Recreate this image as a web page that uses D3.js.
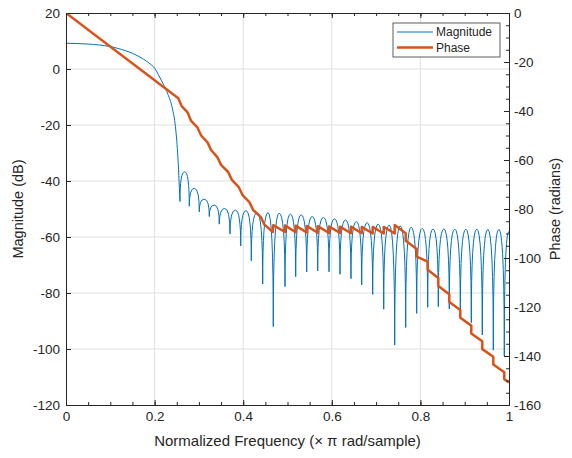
<!DOCTYPE html>
<html>
<head>
<meta charset="utf-8">
<script src="https://cdn.jsdelivr.net/npm/d3@7"></script>
<style>
  body { margin: 0; background: #fff; }
  svg text { font-family: "Liberation Sans", Arial, sans-serif; fill: #262626; }
</style>
</head>
<body>
<div id="chart"></div>
<script>
// passband and transition band (normalized freq, dB)
const bandFreq = [0, 0.05, 0.1, 0.125, 0.15, 0.175, 0.19, 0.2, 0.21, 0.22, 0.23, 0.24, 0.247, 0.252];
const bandMag = [9.2, 8.9, 8.0, 7.0, 5.6, 3.5, 1.8, 0.3, -2.5, -5.5, -9, -14, -20.6, -30];

// stopband nulls and lobe peaks
const nullFreq = [0.2573, 0.2783, 0.3009, 0.3235, 0.3460, 0.3702, 0.3944, 0.4183, 0.4440, 0.4679,
  0.4944, 0.5185, 0.5433, 0.5682, 0.5937, 0.6185, 0.6433, 0.6675, 0.6923, 0.7172,
  0.7420, 0.7668, 0.7916, 0.8165, 0.8404, 0.8652, 0.8901, 0.9149, 0.9397, 0.9646, 0.9894];
const nullMag = [-47.3, -49.0, -51.0, -52.7, -55.4, -58.9, -63.2, -68.5, -76.8, -92.0,
  -77.7, -74.2, -72.5, -72.1, -72.4, -73.3, -74.9, -77.1, -80.5, -85.8,
  -98.6, -92.3, -87.3, -85.1, -84.9, -85.7, -88.7, -90.6, -95.0, -100.4, -102.5];
const peakMag = [-36.7, -42.6, -46.5, -48.6, -49.8, -50.4, -50.6, -51.3, -51.3, -51.5,
  -51.8, -52.1, -52.7, -53.0, -53.5, -53.9, -54.5, -54.9, -55.4, -55.7,
  -56.0, -56.5, -56.9, -57.1, -57.1, -57.2, -57.2, -57.2, -57.3, -57.3];
const magEnd = -58;

// phase vertices (normalized freq, radians)
const phaseFreq = [0, 0.2535, 0.2610, 0.2745, 0.2820, 0.2970, 0.3050, 0.3195, 0.3275, 0.3420,
  0.3500, 0.3660, 0.3745, 0.3900, 0.3985, 0.4140, 0.4225, 0.4395, 0.4480, 0.4670,
  0.4679, 0.4944, 0.4944, 0.5185, 0.5185, 0.5433, 0.5433, 0.5682, 0.5682, 0.5937,
  0.5937, 0.6185, 0.6185, 0.6433, 0.6433, 0.6675, 0.6675, 0.6923, 0.6923, 0.7172,
  0.7172, 0.7420, 0.7420, 0.7668, 0.7668, 0.7916, 0.7916, 0.8165, 0.8165, 0.8404,
  0.8404, 0.8652, 0.8652, 0.8901, 0.8901, 0.9149, 0.9149, 0.9397, 0.9397, 0.9646,
  0.9646, 0.9894, 0.9894, 1];
const phaseVal = [0, -34.8, -38.0, -40.6, -43.9, -46.8, -50.0, -52.8, -55.9, -58.9,
  -62.0, -64.9, -68.1, -71.1, -74.3, -77.2, -80.4, -83.2, -86.4, -89.4,
  -86.6, -89.4, -86.7, -89.5, -86.8, -89.6, -86.9, -89.7, -87.0, -89.8,
  -87.1, -89.8, -87.2, -89.9, -87.2, -89.9, -87.3, -90.0, -87.3, -90.0,
  -87.3, -90.0, -86.5, -89.9, -93.0, -96.3, -99.4, -101.5, -104.8, -108.2,
  -111.4, -114.8, -118.0, -121.2, -124.4, -127.6, -130.8, -134.0, -137.2, -140.3,
  -143.5, -146.6, -149.5, -150.8];

const xTicks = [0, 0.2, 0.4, 0.6, 0.8, 1];
const xMinor = d3.range(0, 1.0001, 0.05);
const magTicks = [-120, -100, -80, -60, -40, -20, 0, 20];
const phaseTicks = [-160, -140, -120, -100, -80, -60, -40, -20, 0];
const phaseMinor = d3.range(-160, 0.1, 5);

const WIDTH = 572;
const HEIGHT = 458;
const MARGIN = { TOP: 13, RIGHT: 63, BOTTOM: 53, LEFT: 66 };
const width = WIDTH - MARGIN.LEFT - MARGIN.RIGHT;
const height = HEIGHT - MARGIN.TOP - MARGIN.BOTTOM;

const BLUE = '#0072BD';
const ORANGE = '#D95319';
const AXIS = '#262626';
const GRID = '#dfdfdf';

const svg = d3.select('#chart')
  .append('svg')
  .attr('width', WIDTH)
  .attr('height', HEIGHT);

const g = svg.append('g')
  .attr('transform', `translate(${MARGIN.LEFT}, ${MARGIN.TOP})`);

const x = d3.scaleLinear().domain([0, 1]).range([0, width]);
const yMag = d3.scaleLinear().domain([-120, 20]).range([height, 0]);
const yPh = d3.scaleLinear().domain([-160, 0]).range([height, 0]);

// grid
g.append('g').selectAll('line')
  .data(xTicks.slice(1, -1))
  .enter().append('line')
  .attr('x1', d => x(d)).attr('x2', d => x(d))
  .attr('y1', 0).attr('y2', height)
  .attr('stroke', GRID);
g.append('g').selectAll('line')
  .data(magTicks.slice(1, -1))
  .enter().append('line')
  .attr('x1', 0).attr('x2', width)
  .attr('y1', d => yMag(d)).attr('y2', d => yMag(d))
  .attr('stroke', GRID);

g.append('clipPath').attr('id', 'clip')
  .append('rect').attr('width', width).attr('height', height);

const plot = g.append('g').attr('clip-path', 'url(#clip)');

// magnitude curve
const bandPts = bandFreq.map((f, i) => [f, bandMag[i]]).concat([[nullFreq[0], nullMag[0]]]);
const bandLine = d3.line()
  .x(d => x(d[0]))
  .y(d => yMag(d[1]))
  .curve(d3.curveMonotoneX);

const lobes = d3.path();
for (let i = 0; i < nullFreq.length - 1; i++) {
  const x0 = x(nullFreq[i]), y0 = yMag(nullMag[i]);
  const x1 = x(nullFreq[i + 1]), y1 = yMag(nullMag[i + 1]);
  const xm = (x0 + x1) / 2, ym = yMag(peakMag[i]);
  lobes.moveTo(x0, y0);
  lobes.quadraticCurveTo(x0, ym, xm, ym);
  lobes.quadraticCurveTo(x1, ym, x1, y1);
}
const last = nullFreq.length - 1;
lobes.moveTo(x(nullFreq[last]), yMag(nullMag[last]));
lobes.quadraticCurveTo(x(nullFreq[last]), yMag(magEnd), x(1), yMag(magEnd));

plot.append('path')
  .attr('d', bandLine(bandPts) + lobes.toString())
  .attr('fill', 'none')
  .attr('stroke', BLUE)
  .attr('stroke-width', 1);

// phase curve
const phasePts = phaseFreq.map((f, i) => [f, phaseVal[i]]);

plot.append('path')
  .datum(phasePts)
  .attr('d', d3.line().x(d => x(d[0])).y(d => yPh(d[1])))
  .attr('fill', 'none')
  .attr('stroke', ORANGE)
  .attr('stroke-width', 2.5)
  .attr('stroke-linejoin', 'round');

// axes
function styleAxis(sel) {
  sel.select('.domain').attr('stroke', AXIS);
  sel.selectAll('.tick line').attr('stroke', AXIS);
  sel.selectAll('.tick text').attr('font-size', 13.5).attr('fill', AXIS);
}
const plain = d => String(d);

g.append('g')
  .attr('transform', `translate(0, ${height})`)
  .call(d3.axisBottom(x).tickValues(xMinor).tickSize(-3).tickSizeOuter(0).tickFormat(''))
  .call(styleAxis);
g.append('g')
  .attr('transform', `translate(0, ${height})`)
  .call(d3.axisBottom(x).tickValues(xTicks).tickSize(-5).tickSizeOuter(0).tickPadding(6).tickFormat(plain))
  .call(styleAxis);
g.append('g')
  .call(d3.axisTop(x).tickValues(xMinor).tickSize(-3).tickSizeOuter(0).tickFormat(''))
  .call(styleAxis);
g.append('g')
  .call(d3.axisTop(x).tickValues(xTicks).tickSize(-5).tickSizeOuter(0).tickFormat(''))
  .call(styleAxis);

g.append('g')
  .call(d3.axisLeft(yMag).tickValues(magTicks).tickSize(-5).tickSizeOuter(0).tickPadding(6).tickFormat(plain))
  .call(styleAxis);

g.append('g')
  .attr('transform', `translate(${width}, 0)`)
  .call(d3.axisRight(yPh).tickValues(phaseMinor).tickSize(-3).tickSizeOuter(0).tickFormat(''))
  .call(styleAxis);
g.append('g')
  .attr('transform', `translate(${width}, 0)`)
  .call(d3.axisRight(yPh).tickValues(phaseTicks).tickSize(-5).tickSizeOuter(0).tickPadding(5).tickFormat(plain))
  .call(styleAxis);

// axis labels
svg.append('text')
  .attr('x', MARGIN.LEFT + width / 2)
  .attr('y', 446)
  .attr('text-anchor', 'middle')
  .attr('font-size', 15)
  .text('Normalized Frequency (\u00d7 \u03c0 rad/sample)');

svg.append('text')
  .attr('transform', `translate(23, ${MARGIN.TOP + height / 2}) rotate(-90)`)
  .attr('text-anchor', 'middle')
  .attr('font-size', 14.5)
  .text('Magnitude (dB)');

svg.append('text')
  .attr('transform', `translate(560, ${MARGIN.TOP + height / 2}) rotate(-90)`)
  .attr('text-anchor', 'middle')
  .attr('font-size', 14.5)
  .text('Phase (radians)');

// legend
const legend = svg.append('g').attr('transform', 'translate(393, 23)');
legend.append('rect')
  .attr('width', 107).attr('height', 34)
  .attr('fill', '#fff')
  .attr('stroke', AXIS)
  .attr('stroke-width', 0.75);
const entries = [['Magnitude', BLUE, 1], ['Phase', ORANGE, 2.5]];
entries.forEach(([name, color, w], i) => {
  const yy = 9 + i * 15.5;
  legend.append('line')
    .attr('x1', 4).attr('x2', 40)
    .attr('y1', yy).attr('y2', yy)
    .attr('stroke', color).attr('stroke-width', w);
  legend.append('text')
    .attr('x', 43).attr('y', yy + 4)
    .attr('font-size', 12)
    .text(name);
});
</script>
</body>
</html>
